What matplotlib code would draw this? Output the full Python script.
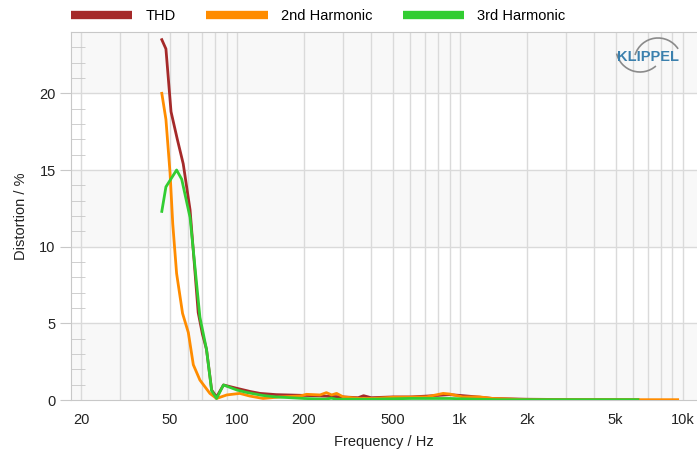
import numpy as np
import matplotlib
matplotlib.use("Agg")
import matplotlib.pyplot as plt
from matplotlib.lines import Line2D
from matplotlib.patches import Arc

plt.rcParams['font.family'] = ['Liberation Sans', 'DejaVu Sans']

# THD curve
thd_f = [46, 48, 50.6, 54, 57.4, 61.6, 67, 70, 73, 77, 81, 87, 100, 115, 127, 150, 200,
         250, 300, 350, 370, 400, 500, 600, 700, 800, 900, 1000, 1200, 1400, 2000, 3000, 5000, 6300]
thd_v = [23.5, 22.9, 18.8, 17.0, 15.4, 12.4, 5.7, 4.3, 3.3, 0.65, 0.2, 0.98, 0.76, 0.55, 0.43, 0.35, 0.3,
         0.25, 0.2, 0.15, 0.28, 0.15, 0.2, 0.2, 0.25, 0.3, 0.35, 0.3, 0.2, 0.1, 0.05, 0.03, 0.02, 0.02]

# 2nd harmonic
h2_f = [46, 48, 50.1, 51.5, 53.6, 57, 60.5, 63.7, 68.2, 75.6, 81, 90, 103, 114, 131, 156, 192, 205,
        236, 252, 266, 280, 300, 356, 409, 502, 708, 842, 900, 1030, 1230, 1410, 2000, 5000, 9500]
h2_v = [20.0, 18.3, 14.8, 11.5, 8.25, 5.65, 4.4, 2.3, 1.3, 0.43, 0.1, 0.33, 0.43, 0.26, 0.1, 0.2, 0.26, 0.37,
        0.33, 0.48, 0.33, 0.43, 0.2, 0.1, 0.1, 0.18, 0.2, 0.43, 0.39, 0.2, 0.2, 0.1, 0.02, 0.02, 0.02]

# 3rd harmonic
h3_f = [46, 48, 53.6, 56.5, 61.6, 68.2, 73, 77, 81, 87, 100, 110, 130, 150, 200, 250, 265, 280,
        300, 400, 600, 900, 1200, 1500, 3000, 6300]
h3_v = [12.3, 13.9, 15.0, 14.4, 11.9, 5.4, 3.3, 0.6, 0.1, 0.98, 0.65, 0.5, 0.3, 0.2, 0.1, 0.05, 0.12, 0.05,
        0.05, 0.05, 0.1, 0.1, 0.05, 0.02, 0.02, 0.02]

x_ticks = [20, 50, 100, 200, 500, 1000, 2000, 5000, 10000]
x_labels = ['20', '50', '100', '200', '500', '1k', '2k', '5k', '10k']
y_ticks = [0, 5, 10, 15, 20]

fig = plt.figure(figsize=(6.97, 4.55), dpi=100)
ax = fig.add_axes([71 / 697, 55 / 455, 626 / 697, 368 / 455])

ax.set_xscale('log')
ax.set_xlim(18, 11600)
ax.set_ylim(0, 24)

# alternating bands
for lo in range(0, 25, 10):
    ax.axhspan(lo, lo + 5, color='#f8f8f8', zorder=0, lw=0)

grid_c = '#dadada'
vgrid = [d * m for d in (10, 100, 1000) for m in range(2, 10)] + [100, 1000, 10000]
for g in vgrid:
    ax.axvline(g, color=grid_c, lw=1, zorder=1)
for g in y_ticks[1:]:
    ax.axhline(g, color=grid_c, lw=1, zorder=1)

lw = 2.0
ax.plot(thd_f, thd_v, color='#a52a2a', lw=lw, zorder=3)
ax.plot(h2_f, h2_v, color='#ff8c00', lw=lw, zorder=4)
ax.plot(h3_f, h3_v, color='#32cd32', lw=lw, zorder=5)

for s in ['left', 'bottom', 'top']:
    ax.spines[s].set_color('#c8c8c8')
ax.spines['right'].set_visible(False)

ax.set_xticks(x_ticks)
ax.set_xticklabels(x_labels)
ax.set_xticks([100, 1000, 10000], minor=True)
ax.tick_params(axis='x', which='major', length=0, pad=9, labelsize=10.5, colors='#222222')
ax.tick_params(axis='x', which='minor', length=5, direction='out', color='#c8c8c8')
ax.xaxis.set_minor_formatter(plt.NullFormatter())

ax.set_yticks(y_ticks)
ax.set_yticks(range(0, 24), minor=True)
ax.tick_params(axis='y', which='major', length=8, direction='out', color='#c8c8c8',
               pad=3, labelsize=10.5, labelcolor='#222222')
ax.tick_params(axis='y', which='minor', length=10, direction='in', color='#c8c8c8')

ax.set_xlabel('Frequency / Hz', fontsize=10.5, color='#222222', labelpad=6)
ax.set_ylabel('Distortion / %', fontsize=10.5, color='#222222', labelpad=8)

handles = [Line2D([], [], color=c, lw=6, solid_capstyle='butt')
           for c in ('#a52a2a', '#ff8c00', '#32cd32')]
fig.legend(handles, ['THD', '2nd Harmonic', '3rd Harmonic'], ncol=3, frameon=False,
           loc='center left', bbox_to_anchor=(58 / 697, 1 - 16 / 455), handlelength=4.2,
           handletextpad=0.9, columnspacing=2.1, fontsize=10.5)

# logo
fig.text(648 / 697, 1 - 57 / 455, 'KLIPPEL', color='#3b80ad', fontsize=10.5, weight='bold',
         ha='center', va='center')
r = 24
fig.patches.append(Arc((658 / 697, 1 - 62 / 455), 2 * r / 697, 2 * r / 455, theta1=45, theta2=155,
                       color='#8a8a8a', lw=1.2, transform=fig.transFigure))
fig.patches.append(Arc((640 / 697, 1 - 48 / 455), 2 * r / 697, 2 * r / 455, theta1=200, theta2=300,
                       color='#8a8a8a', lw=1.2, transform=fig.transFigure))

fig.savefig('out.png', dpi=100)
